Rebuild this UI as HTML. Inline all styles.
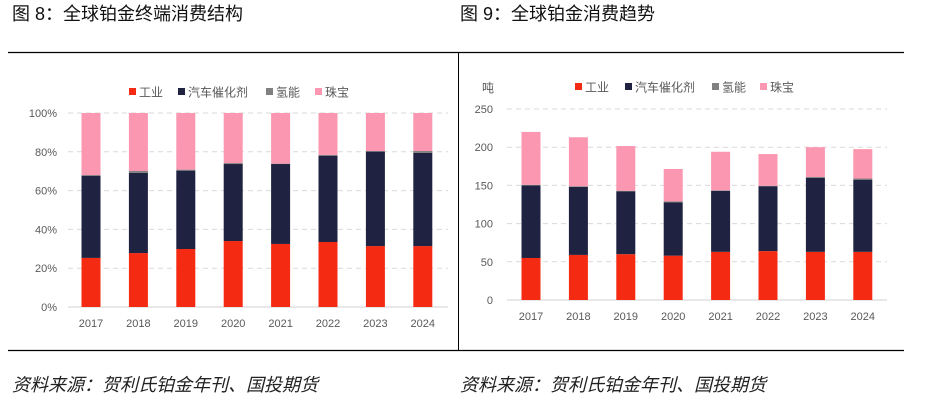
<!DOCTYPE html>
<html><head><meta charset="utf-8"><style>
body{margin:0;background:#fff;width:944px;height:404px;overflow:hidden;font-family:"Liberation Sans","Noto Sans CJK SC",sans-serif;}
</style></head><body>
<svg id="s" width="944" height="404" xmlns="http://www.w3.org/2000/svg">
<text x="12" y="20" font-size="18" fill="#111" font-family="Liberation Sans,Noto Sans CJK SC,sans-serif">图 8：全球铂金终端消费结构</text>
<text x="460" y="20" font-size="18" fill="#111" font-family="Liberation Sans,Noto Sans CJK SC,sans-serif">图 9：全球铂金消费趋势</text>
<line x1="8" y1="52.5" x2="904" y2="52.5" stroke="#000" stroke-width="1.2"/>
<line x1="458.5" y1="52" x2="458.5" y2="350" stroke="#000" stroke-width="1"/>
<line x1="8" y1="350.5" x2="904" y2="350.5" stroke="#000" stroke-width="1.2"/>
<text x="12" y="391" font-size="18" font-style="italic" fill="#222">资料来源：贺利氏铂金年刊、国投期货</text>
<text x="460" y="391" font-size="18" font-style="italic" fill="#222">资料来源：贺利氏铂金年刊、国投期货</text>
</svg>
<script>
const years=["2017","2018","2019","2020","2021","2022","2023","2024"];
const pctIndustry=[25.3,27.8,29.9,34.0,32.5,33.5,31.4,31.4];
const pctAuto=[42.4,41.3,40.4,39.7,41.2,44.5,48.7,48.0];
const pctHydrogen=[0.3,1.0,0.5,0.5,0.2,0.4,0.3,1.0];
const pctJewelry=[32.0,29.9,29.2,25.8,26.1,21.6,19.6,19.6];
const pctTicks=[0,20,40,60,80,100];
const tIndustry=[55,59,60,58,63,64,63,63];
const tAuto=[95,89,82,70,80,85,97,94.5];
const tHydrogen=[0.8,1,1,1,0.5,0.5,1,1.5];
const tJewelry=[69.2,64,58.5,42.5,50.5,41.5,39,38.5];
const tonTicks=[0,50,100,150,200,250];
const colors=["#f52a12","#1f2240","#808080","#fb97b0"];
const names=["工业","汽车催化剂","氢能","珠宝"];
const NS="http://www.w3.org/2000/svg";
const svg=document.getElementById('s');
function el(t,a,txt){const e=document.createElementNS(NS,t);for(const k in a)e.setAttribute(k,a[k]);if(txt!==undefined)e.textContent=txt;svg.appendChild(e);return e;}
function chart(o){
 const y=v=>o.y0-(v-o.min)/(o.max-o.min)*(o.y0-o.y1);
 const x=i=>o.cx0+i*o.step;
 o.ticks.forEach(t=>{
  const g=el('line',{x1:o.px0,x2:o.px1,y1:y(t),y2:y(t),stroke:t===0?'#d0d0d0':'#d9d9d9','stroke-dasharray':t===0?'':'5,4'});
  
  
  const l=el('text',{x:o.lx,y:y(t)+4,'font-size':11,fill:'#595959','text-anchor':'end'},t+o.suffix);
  
  
 });
 years.forEach((yr,i)=>{
  let base=0;
  o.series.forEach((s,k)=>{
   const v=s[i];
   const r=el('rect',{x:x(i)-9.5,width:19,y:y(base+v),height:Math.max(0,y(base)-y(base+v)),fill:colors[k]});
   
   
   base+=v;
  });
  const t=el('text',{x:x(i),y:o.y0+20,'font-size':11,fill:'#595959','text-anchor':'middle'},yr);
  
  
 });
 names.forEach((n,k)=>{
  const r=el('rect',{x:o.leg[k],y:o.legY-4,width:7,height:7,fill:colors[k]});
  
  
  const t=el('text',{x:o.leg[k]+10,y:o.legY+4.5,'font-size':12,fill:'#595959'},n);
  
  
 });
}
chart({id:'chart1',series:[pctIndustry,pctAuto,pctHydrogen,pctJewelry],ticks:pctTicks,min:0,max:100,y0:307,y1:113,cx0:91,step:47.4,px0:68,px1:448,lx:57,suffix:'%',leg:[129,178,266,315],legY:92});
chart({id:'chart2',series:[tIndustry,tAuto,tHydrogen,tJewelry],ticks:tonTicks,min:0,max:250,y0:300,y1:109,cx0:531,step:47.4,px0:507,px1:887,lx:493,suffix:'',leg:[575,625,712,760],legY:87});
const u=el('text',{x:482,y:92,'font-size':12,fill:'#595959'},'吨');


</script>
</body></html>
